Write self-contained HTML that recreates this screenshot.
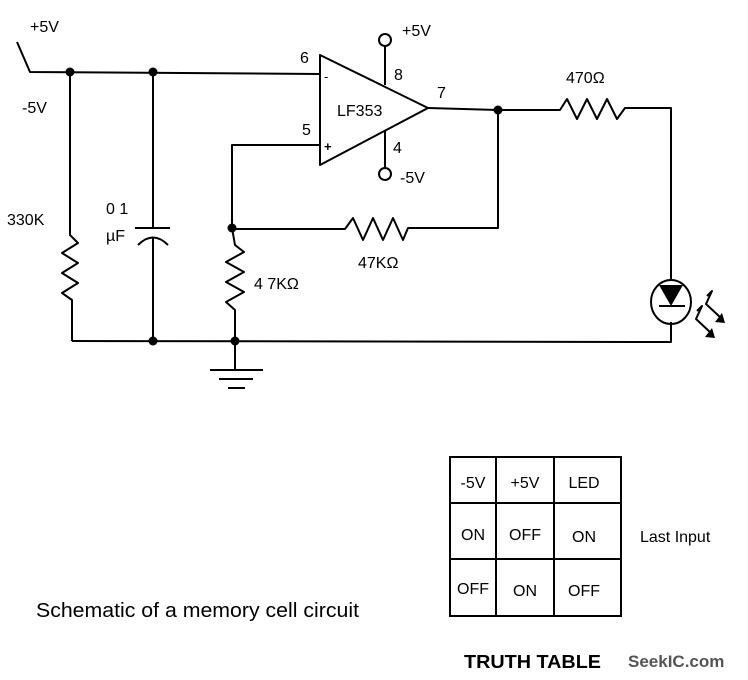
<!DOCTYPE html>
<html><head><meta charset="utf-8"><style>
html,body{margin:0;padding:0;background:#fff}
svg{display:block}
text{font-family:"Liberation Sans",sans-serif;fill:#000}
</style></head><body>
<svg width="748" height="680" viewBox="0 0 748 680" xmlns="http://www.w3.org/2000/svg">
<g stroke="#000" stroke-width="2" fill="none" stroke-linejoin="round">
<polyline points="17,42 30,72 320,74"/>
<polyline points="70,72 70,235 78,243 62,253 78,263 62,273 78,283 62,293 72,300 72,341"/>
<line x1="153" y1="72" x2="153" y2="228"/>
<line x1="135" y1="228" x2="170" y2="228"/>
<path d="M138,245 Q153,230 168,245"/>
<line x1="153" y1="237" x2="153" y2="341"/>
<polyline points="72,341 671,342 671,322"/>
<line x1="235" y1="341" x2="235" y2="370"/>
<line x1="210" y1="370" x2="263" y2="370"/>
<line x1="219" y1="379" x2="253" y2="379"/>
<line x1="228" y1="388" x2="245" y2="388"/>
<polyline points="320,145 232,145 232,228"/>
<polyline points="232,228 235,245 244,252 226,262 244,272 226,282 244,292 226,302 235,310 235,341"/>
<polyline points="232,229 345,229 353,218 363,240 373,218 383,240 393,218 403,240 408,228 498,228 498,110"/>
<polygon points="320,55 320,165 428,108"/>
<line x1="385" y1="46" x2="385" y2="85"/>
<circle cx="385" cy="40" r="6"/>
<line x1="385" y1="131" x2="385" y2="168"/>
<circle cx="385" cy="174" r="6"/>
<polyline points="428,108 498,110 560,110 567,99 577,119 587,99 597,119 607,99 617,119 625,108 671,108 671,280"/>
<ellipse cx="671" cy="302" rx="20" ry="22"/>
<line x1="659" y1="306" x2="685" y2="306"/>
<polyline points="707,296 712,291 706,304 721,318"/>
<polyline points="697,311 702,306 696,319 711,333"/>
</g>
<g fill="#000">
<circle cx="70" cy="72" r="4.5"/><circle cx="153" cy="72" r="4.5"/>
<circle cx="153" cy="341" r="4.5"/><circle cx="235" cy="341" r="4.5"/>
<circle cx="232" cy="228" r="4.5"/><circle cx="498" cy="110" r="4.5"/>
<polygon points="659,285 683,285 671,306"/>
<polygon points="725,323 715,322 722,313"/>
<polygon points="715,338 705,337 712,328"/>
</g>
<g font-size="16">
<text x="30" y="32">+5V</text>
<text x="22" y="113">-5V</text>
<text x="7" y="225">330K</text>
<text x="106" y="214">0 1</text>
<text x="106" y="241">µF</text>
<text x="300" y="63">6</text>
<text x="302" y="135">5</text>
<text x="394" y="80">8</text>
<text x="393" y="153">4</text>
<text x="402" y="36">+5V</text>
<text x="400" y="183">-5V</text>
<text x="437" y="98">7</text>
<text x="337" y="116">LF353</text>
<text x="254" y="289">4 7KΩ</text>
<text x="358" y="268">47KΩ</text>
<text x="566" y="83">470Ω</text>
<text x="324" y="81" font-size="13">-</text>
<text x="324" y="151" font-size="13" font-weight="bold">+</text>
</g>
<text x="36" y="617" font-size="20" textLength="323" lengthAdjust="spacingAndGlyphs">Schematic of a memory cell circuit</text>
<g stroke="#000" stroke-width="2" fill="none">
<rect x="450" y="457" width="171" height="159"/>
<line x1="496" y1="457" x2="496" y2="616"/>
<line x1="554" y1="457" x2="554" y2="616"/>
<line x1="450" y1="503" x2="621" y2="503"/>
<line x1="450" y1="559" x2="621" y2="559"/>
</g>
<g font-size="16" text-anchor="middle">
<text x="473" y="488">-5V</text><text x="525" y="488">+5V</text><text x="584" y="488">LED</text>
<text x="473" y="540">ON</text><text x="525" y="540">OFF</text><text x="584" y="542">ON</text>
<text x="473" y="594">OFF</text><text x="525" y="596">ON</text><text x="584" y="596">OFF</text>
</g>
<text x="640" y="542" font-size="16">Last Input</text>
<text x="464" y="668" font-size="18" font-weight="bold" textLength="137" lengthAdjust="spacingAndGlyphs">TRUTH TABLE</text>
<text x="628" y="667" font-size="17" font-weight="bold" style="fill:#555">SeekIC.com</text>
</svg>
</body></html>
